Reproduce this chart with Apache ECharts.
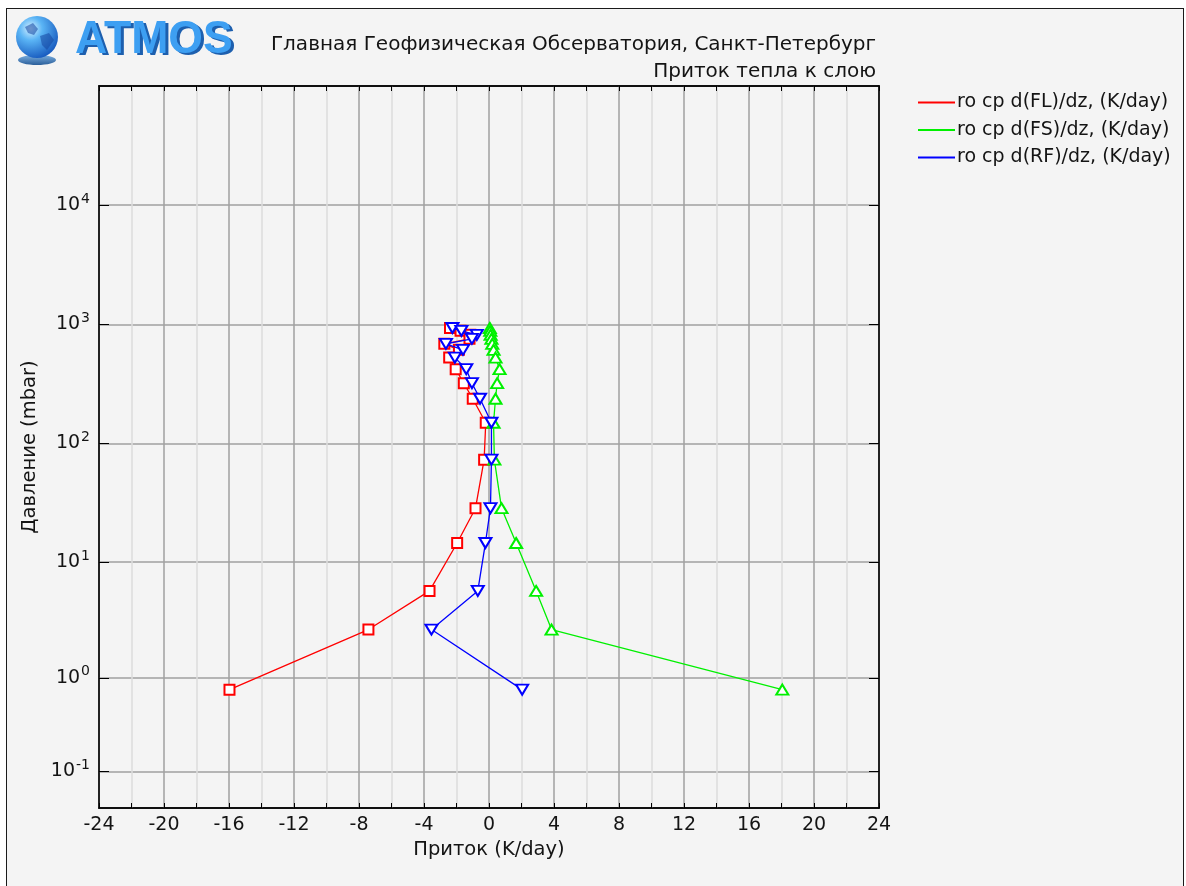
<!DOCTYPE html>
<html>
<head>
<meta charset="utf-8">
<script src="https://cdn.jsdelivr.net/npm/echarts@6/dist/echarts.min.js"></script>
<style>
html,body{margin:0;padding:0;background:#ffffff;overflow:hidden;}
#frame{position:absolute;left:6px;top:8px;width:1178px;height:900px;border:1.5px solid #1a1a1a;background:#f4f4f4;box-sizing:border-box;}
#chart{position:absolute;left:0;top:0;width:1186px;height:886px;}
</style>
</head>
<body>
<div id="frame"></div>
<div id="chart"></div>
<script>
// ---- data ----
const pressure   = [930, 880, 815, 755, 685, 610, 525, 420, 320, 237, 149, 73, 28.5, 14.5, 5.7, 2.66, 0.78]; // mbar
const flValues   = [-2.4, -1.75, -1.15, -1.2, -2.75, -1.85, -2.45, -2.05, -1.55, -1.0, -0.2, -0.3, -0.83, -1.96, -3.66, -7.42, -15.97];
const fsValues   = [0.05, 0.08, 0.1, 0.15, 0.2, 0.28, 0.4, 0.65, 0.5, 0.4, 0.28, 0.33, 0.77, 1.67, 2.9, 3.85, 18.05];
const rfValues   = [-2.25, -1.7, -0.75, -1.05, -2.65, -1.6, -2.1, -1.4, -1.05, -0.55, 0.15, 0.15, 0.09, -0.22, -0.69, -3.54, 2.04];
const seriesNames = ['ro cp d(FL)/dz, (K/day)', 'ro cp d(FS)/dz, (K/day)', 'ro cp d(RF)/dz, (K/day)'];
const tickExponents = [-1, 0, 1, 2, 3, 4];
const pressureRange = [0.01, 1e5];
const xRange = [-24, 24];
const xInterval = 4;

// pressure axis scale of the original plot: log10(p + c)
const C = 0.077;
const toU = p => Math.log10(p + C);
const tickU = tickExponents.map(e => toU(Math.pow(10, e)));

const chart = echarts.init(document.getElementById('chart'), null, {renderer: 'canvas'});
const FONT = '"DejaVu Sans", Verdana, sans-serif';
const TXT = '#141414';

function pts(vals) { return vals.map((v, i) => [v, toU(pressure[i])]); }

const colors = ['#ff0000', '#00f000', '#0000ff'];
const symbols = ['emptyRect', 'emptyTriangle', 'emptyTriangle'];
const rotates = [0, 0, 180];
const sizes = [10, [12, 10], [12, 10]];
const vals = [flValues, fsValues, rfValues];

const series = vals.map((v, i) => ({
  name: seriesNames[i],
  type: 'line',
  data: pts(v),
  symbol: symbols[i],
  symbolRotate: rotates[i],
  symbolSize: sizes[i],
  showAllSymbol: true,
  itemStyle: {color: colors[i]},
  lineStyle: {color: colors[i], width: 1.3},
  animation: false,
  z: 3 + (i === 2 ? 1 : 0)
}));

const option = {
  backgroundColor: 'transparent',
  animation: false,
  textStyle: {fontFamily: FONT},
  grid: {left: 99, right: 307, top: 86, bottom: 78, show: true, borderColor: '#000', borderWidth: 1.5, backgroundColor: 'transparent'},
  legend: {
    orient: 'vertical', left: 918, top: 93, padding: 0,
    itemWidth: 37, itemHeight: 2, itemGap: 8.5,
    textStyle: {fontFamily: FONT, fontSize: 19, color: TXT, padding: [0, 0, 0, -3]},
    data: seriesNames.map((n, i) => ({name: n, icon: 'rect', itemStyle: {color: colors[i], borderWidth: 0}}))
  },
  xAxis: [{
    type: 'value', min: xRange[0], max: xRange[1], interval: xInterval, position: 'bottom',
    name: 'Приток (K/day)', nameLocation: 'middle', nameGap: 30,
    nameTextStyle: {fontFamily: FONT, fontSize: 19.5, color: TXT},
    axisLine: {show: true, onZero: false, lineStyle: {color: '#000', width: 1.5}},
    axisTick: {show: true, inside: true, length: 5, lineStyle: {color: '#000'}},
    minorTick: {show: true, splitNumber: 2, length: 5, lineStyle: {color: '#000'}},
    axisLabel: {fontFamily: FONT, fontSize: 19, color: TXT, margin: 8},
    splitLine: {show: true, lineStyle: {color: '#a0a0a0', width: 1.5}},
    minorSplitLine: {show: true, lineStyle: {color: '#dcdcdc', width: 1.5}}
  }, {
    type: 'value', min: xRange[0], max: xRange[1], interval: xInterval, position: 'top',
    axisLine: {show: true, onZero: false, lineStyle: {color: '#000', width: 1.5}},
    axisTick: {show: true, inside: true, length: 5, lineStyle: {color: '#000'}},
    minorTick: {show: true, splitNumber: 2, length: 5, lineStyle: {color: '#000'}},
    axisLabel: {show: false}, splitLine: {show: false}
  }],
  yAxis: [{
    type: 'value', min: toU(pressureRange[0]), max: toU(pressureRange[1]), position: 'left',
    name: 'Давление (mbar)', nameLocation: 'middle', nameGap: 54, nameRotate: 90,
    nameTextStyle: {fontFamily: FONT, fontSize: 19.5, color: TXT},
    axisLine: {show: true, onZero: false, lineStyle: {color: '#000', width: 1.5}},
    axisTick: {show: true, inside: true, length: 10, customValues: tickU, lineStyle: {color: '#000'}},
    axisLabel: {
      customValues: tickU, margin: 9, color: TXT,
      formatter: function (v) {
        let best = 0, bd = Infinity;
        tickU.forEach((u, i) => { const d = Math.abs(u - v); if (d < bd) { bd = d; best = i; } });
        return '{b|10}{s|' + tickExponents[best] + '}';
      },
      rich: {
        b: {fontFamily: FONT, fontSize: 19, color: TXT},
        s: {fontFamily: FONT, fontSize: 14, color: TXT, padding: [0, 0, 12, 1]}
      }
    },
    splitLine: {show: true, lineStyle: {color: '#a0a0a0', width: 1.5}}
  }, {
    type: 'value', min: toU(pressureRange[0]), max: toU(pressureRange[1]), position: 'right',
    axisLine: {show: true, onZero: false, lineStyle: {color: '#000', width: 1.5}},
    axisTick: {show: true, inside: true, length: 10, customValues: tickU, lineStyle: {color: '#000'}},
    axisLabel: {show: false}, splitLine: {show: false}
  }],
  graphic: [
    // globe logo
    {type: 'ellipse', shape: {cx: 37, cy: 60, rx: 19, ry: 5}, style: {fill: {type: 'linear', x: 0, y: 0, x2: 0, y2: 1, colorStops: [{offset: 0, color: '#7aaee0'}, {offset: 1, color: '#2b5f9a'}]}}},
    {type: 'circle', shape: {cx: 37, cy: 37, r: 21}, style: {fill: {type: 'radial', x: 0.35, y: 0.3, r: 0.8, colorStops: [{offset: 0, color: '#d6f0ff'}, {offset: 0.35, color: '#5ab4f5'}, {offset: 1, color: '#0f4fb8'}]}}},
    {type: 'polygon', shape: {points: [[25, 27], [33, 23], [38, 29], [34, 35], [28, 33]]}, style: {fill: 'rgba(20,70,160,0.55)'}},
    {type: 'polygon', shape: {points: [[40, 36], [49, 33], [54, 40], [47, 50], [42, 45]]}, style: {fill: 'rgba(20,70,160,0.55)'}},
    // ATMOS text with shadow
    {type: 'text', x: 78, y: 42, scaleX: 0.97, style: {text: 'ATMOS', font: 'bold 46px "Liberation Sans", Arial, sans-serif', fill: '#1d5fae', verticalAlign: 'middle', align: 'left'}},
    {type: 'text', x: 75, y: 40, scaleX: 0.97, style: {text: 'ATMOS', font: 'bold 46px "Liberation Sans", Arial, sans-serif', fill: '#3d9ff2', verticalAlign: 'middle', align: 'left'}},
    // titles
    {type: 'text', x: 876, y: 45, style: {text: 'Главная Геофизическая Обсерватория, Санкт-Петербург', font: '20px ' + FONT, fill: TXT, align: 'right', verticalAlign: 'middle'}},
    {type: 'text', x: 876, y: 72, style: {text: 'Приток тепла к слою', font: '20px ' + FONT, fill: TXT, align: 'right', verticalAlign: 'middle'}}
  ],
  series: series
};
chart.setOption(option);
</script>
</body>
</html>
